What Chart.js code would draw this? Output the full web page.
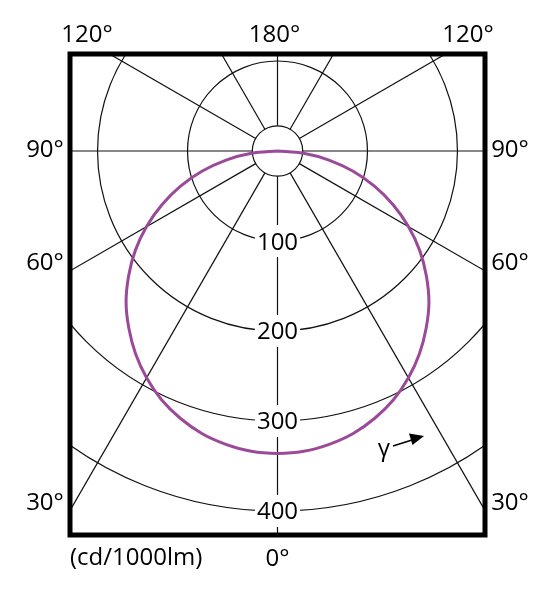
<!DOCTYPE html>
<html><head><meta charset="utf-8">
<script src="https://cdn.jsdelivr.net/npm/chart.js@4.4.0/dist/chart.umd.min.js"></script>
<style>html,body{margin:0;padding:0;background:#fff}canvas{display:block}</style>
</head><body>
<canvas id="c" width="552" height="600"></canvas>
<script>
// Luminous intensity (cd/1000lm), per gamma angle (symmetric both sides)
const gammaDeg  = [0, 5, 10, 15, 20, 25, 30, 35, 40, 45, 50, 55, 60, 65, 70, 75, 80, 85, 90];
const intensity = [336, 335, 331, 325, 316, 305, 291, 275, 257, 238, 216, 193, 168, 142, 115, 87, 58, 29, 0];

// Polar grid
const ringValues = [100, 200, 300, 400];
const ringLabels = ['100', '200', '300', '400'];
const innerRingValue = 28;
const spokeAngles = [0, 30, 60, 90, 120, 150, 180];

// Angle labels round the frame
const topLabels = ['120°', '180°', '120°'];
const sideLabels = ['90°', '60°', '30°'];
const bottomLabel = '0°';
const unitLabel = '(cd/1000lm)';
const gammaLabel = 'γ';

const FONT = '24px "Open Sans", "DejaVu Sans", sans-serif';
const CURVE_COLOR = '#9a4a98';

// Build the curve points (left side from 90° down to 0°, then right side 0° to 90°)
const curvePoints = [];
for (let i = gammaDeg.length - 1; i >= 0; i--) {
  const g = gammaDeg[i] * Math.PI / 180;
  curvePoints.push({x: -intensity[i] * Math.sin(g), y: -intensity[i] * Math.cos(g)});
}
for (let i = 1; i < gammaDeg.length; i++) {
  const g = gammaDeg[i] * Math.PI / 180;
  curvePoints.push({x: intensity[i] * Math.sin(g), y: -intensity[i] * Math.cos(g)});
}

function geom(chart) {
  const xs = chart.scales.x, ys = chart.scales.y;
  const cx = xs.getPixelForValue(0), cy = ys.getPixelForValue(0);
  const kx = xs.getPixelForValue(1) - cx;
  const ky = cy - ys.getPixelForValue(1);
  return {cx, cy, kx, ky};
}

const polarGrid = {
  id: 'polarGrid',
  beforeDatasetsDraw(chart) {
    const ctx = chart.ctx, a = chart.chartArea;
    const {cx, cy, kx, ky} = geom(chart);
    ctx.save();
    ctx.beginPath();
    ctx.rect(a.left, a.top, a.right - a.left, a.bottom - a.top);
    ctx.clip();
    ctx.strokeStyle = '#111';
    ctx.lineWidth = 1.2;
    // rings
    [innerRingValue, ...ringValues].forEach(v => {
      ctx.beginPath();
      ctx.ellipse(cx, cy, v * kx, v * ky, 0, 0, Math.PI * 2);
      ctx.stroke();
    });
    // spokes
    spokeAngles.forEach(deg => {
      [-1, 1].forEach(side => {
        if ((deg === 0 || deg === 180) && side === 1) return;
        const g = deg * Math.PI / 180;
        const dx = side * Math.sin(g), dy = -Math.cos(g);
        ctx.beginPath();
        ctx.moveTo(cx + innerRingValue * dx * kx, cy - innerRingValue * dy * ky);
        ctx.lineTo(cx + 1000 * dx * kx, cy - 1000 * dy * ky);
        ctx.stroke();
      });
    });
    // ring labels with white boxes
    ctx.font = FONT;
    ctx.textAlign = 'center';
    ctx.textBaseline = 'alphabetic';
    ringValues.forEach((v, i) => {
      const y = cy + v * ky;
      const w = ctx.measureText(ringLabels[i]).width;
      ctx.fillStyle = '#fff';
      ctx.fillRect(cx - w / 2 - 2, y - 16, w + 4, 32);
      ctx.fillStyle = '#000';
      ctx.fillText(ringLabels[i], cx, y + 8.5);
    });
    ctx.restore();
  },
  afterDatasetsDraw(chart) {
    const ctx = chart.ctx, a = chart.chartArea;
    const {cx, cy} = geom(chart);
    ctx.save();
    // frame
    ctx.strokeStyle = '#000';
    ctx.lineWidth = 5;
    ctx.strokeRect(a.left, a.top, a.right - a.left, a.bottom - a.top);
    // labels
    ctx.font = FONT;
    ctx.fillStyle = '#000';
    ctx.textBaseline = 'alphabetic';
    ctx.textAlign = 'center';
    ctx.fillText(topLabels[0], a.left + 17, a.top - 12);
    ctx.fillText(topLabels[1], cx - 3, a.top - 12);
    ctx.fillText(topLabels[2], a.right - 17, a.top - 12);
    const sideBase = [cy + 6, 270, 510];
    sideLabels.forEach((t, i) => {
      ctx.fillText(t, a.left - 25, sideBase[i]);
      ctx.fillText(t, a.right + 25, sideBase[i]);
    });
    ctx.fillText(bottomLabel, cx, a.bottom + 31);
    ctx.textAlign = 'left';
    ctx.fillText(unitLabel, a.left, a.bottom + 30);
    // gamma arrow
    ctx.textAlign = 'center';
    ctx.fillText(gammaLabel, 384, 456);
    ctx.strokeStyle = '#000';
    ctx.lineWidth = 1.5;
    ctx.beginPath();
    ctx.moveTo(393, 446);
    ctx.lineTo(412, 440);
    ctx.stroke();
    ctx.beginPath();
    ctx.moveTo(424, 436);
    ctx.lineTo(409, 433.5);
    ctx.lineTo(412.5, 445);
    ctx.closePath();
    ctx.fill();
    ctx.restore();
  }
};

new Chart(document.getElementById('c'), {
  type: 'scatter',
  data: {
    datasets: [{
      data: curvePoints,
      showLine: true,
      borderColor: CURVE_COLOR,
      borderWidth: 3,
      pointRadius: 0,
      tension: 0.3,
      fill: false
    }]
  },
  options: {
    responsive: false,
    animation: false,
    devicePixelRatio: 1,
    layout: {padding: {left: 70, right: 67, top: 54, bottom: 65}},
    scales: {
      x: {type: 'linear', min: -230.6, max: 230.6, display: false},
      y: {type: 'linear', min: -426.7, max: 107.8, display: false}
    },
    plugins: {legend: {display: false}, tooltip: {enabled: false}}
  },
  plugins: [polarGrid]
});
</script>
</body></html>
